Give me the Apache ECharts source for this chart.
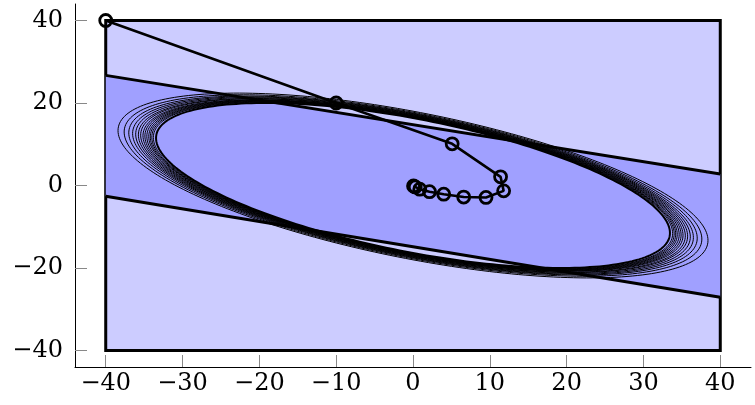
<!DOCTYPE html>
<html><head><meta charset="utf-8">
<script src="https://cdn.jsdelivr.net/npm/echarts@6/dist/echarts.min.js"></script>
<style>html,body{margin:0;padding:0;background:#fff}#c{width:755px;height:405px}</style>
</head><body><div id="c"></div>
<script>
// ---- data ----
const xTicks = [-40, -30, -20, -10, 0, 10, 20, 30, 40];
const yTicks = [-40, -20, 0, 20, 40];
const rectX = [-40, 40];
const rectY = [-40, 40];
const bandX = [-40, 40];
const bandTop = [26.7, 2.8];
const bandBottom = [-2.6, -27.1];
const mainEllipse = [33.45, 20.0, -0.575]; // x-extent, y-extent, correlation
const thinSx = [38.4, 37.6, 37.0, 36.5, 36.1, 35.75, 35.45, 35.15, 34.9, 34.65, 34.4, 34.2, 34.0, 33.8];
const thinSy = [22.4, 22.0, 21.7, 21.5, 21.3, 21.1, 21.0, 20.8, 20.7, 20.6, 20.5, 20.4, 20.3, 20.2];
const thinRho = [-0.594, -0.59, -0.588, -0.586, -0.584, -0.582, -0.581, -0.58, -0.579, -0.578, -0.578, -0.577, -0.576, -0.576];
const trajX = [-40, -10, 5.1, 11.4, 11.8, 9.5, 6.6, 4.0, 2.15, 0.88, 0.29, 0.07];
const trajY = [40, 20, 10.1, 2.1, -1.3, -2.9, -2.8, -2.1, -1.5, -0.9, -0.35, -0.12];

const FONT = 'DejaVu Serif';
const fmt = v => (v < 0 ? '\u2212' + Math.abs(v) : String(v));

function ellipsePts(sx, sy, rho) {
  const pts = [];
  const n = 240;
  const q = Math.sqrt(1 - rho * rho);
  for (let i = 0; i <= n; i++) {
    const t = 2 * Math.PI * i / n;
    pts.push([sx * Math.cos(t), sy * (rho * Math.cos(t) + q * Math.sin(t))]);
  }
  return pts;
}
function polySeries(pts, style, z, closed) {
  return {
    type: 'custom', coordinateSystem: 'cartesian2d', z: z, silent: true,
    data: [[0, 0]],
    renderItem: (params, api) => ({
      type: closed ? 'polygon' : 'polyline',
      shape: { points: pts.map(p => api.coord(p)) },
      style: style
    })
  };
}

const rectPts = [[rectX[0], rectY[0]], [rectX[1], rectY[0]], [rectX[1], rectY[1]], [rectX[0], rectY[1]]];
const bandPts = [[bandX[0], bandBottom[0]], [bandX[1], bandBottom[1]], [bandX[1], bandTop[1]], [bandX[0], bandTop[0]]];

const series = [];
series.push(polySeries(rectPts, { fill: '#ccccff', stroke: '#000', lineWidth: 3 }, 1, true));
series.push(polySeries(bandPts, { fill: '#a0a0ff', stroke: null }, 2, true));
series.push(polySeries([[bandX[0], bandTop[0]], [bandX[1], bandTop[1]]], { fill: null, stroke: '#000', lineWidth: 3 }, 3, false));
series.push(polySeries([[bandX[0], bandBottom[0]], [bandX[1], bandBottom[1]]], { fill: null, stroke: '#000', lineWidth: 3 }, 3, false));
thinSx.forEach((sx, i) => {
  series.push(polySeries(ellipsePts(sx, thinSy[i], thinRho[i]), { fill: null, stroke: '#000', lineWidth: 1 }, 4, false));
});
series.push(polySeries(ellipsePts(mainEllipse[0], mainEllipse[1], mainEllipse[2]), { fill: null, stroke: '#000', lineWidth: 2 }, 5, false));
series.push({
  type: 'line', z: 6, silent: true,
  data: trajX.map((x, i) => [x, trajY[i]]),
  symbol: 'circle', symbolSize: 12,
  lineStyle: { color: '#000', width: 2.6 },
  itemStyle: { color: 'rgba(0,0,0,0)', borderColor: '#000', borderWidth: 2.8 },
  animation: false
});

const chart = echarts.init(document.getElementById('c'), null, { renderer: 'canvas' });
chart.setOption({
  animation: false,
  grid: { left: 75, right: 4, top: 4, bottom: 38, containLabel: false },
  xAxis: {
    type: 'value', min: -44, max: 44,
    axisLine: { show: true, onZero: false, lineStyle: { color: '#000', width: 1 } },
    axisTick: { show: true, inside: true, length: 12, customValues: xTicks, lineStyle: { color: '#888', width: 1 } },
    axisLabel: { customValues: xTicks, formatter: fmt, fontFamily: FONT, fontSize: 24, color: '#000', margin: 5 },
    splitLine: { show: false }
  },
  yAxis: {
    type: 'value', min: -44, max: 44,
    axisLine: { show: true, onZero: false, lineStyle: { color: '#000', width: 1 } },
    axisTick: { show: true, inside: true, length: 12, customValues: yTicks, lineStyle: { color: '#888', width: 1 } },
    axisLabel: { customValues: yTicks, formatter: fmt, fontFamily: FONT, fontSize: 24, color: '#000', margin: 12 },
    splitLine: { show: false }
  },
  series: series
});
</script>
</body></html>
